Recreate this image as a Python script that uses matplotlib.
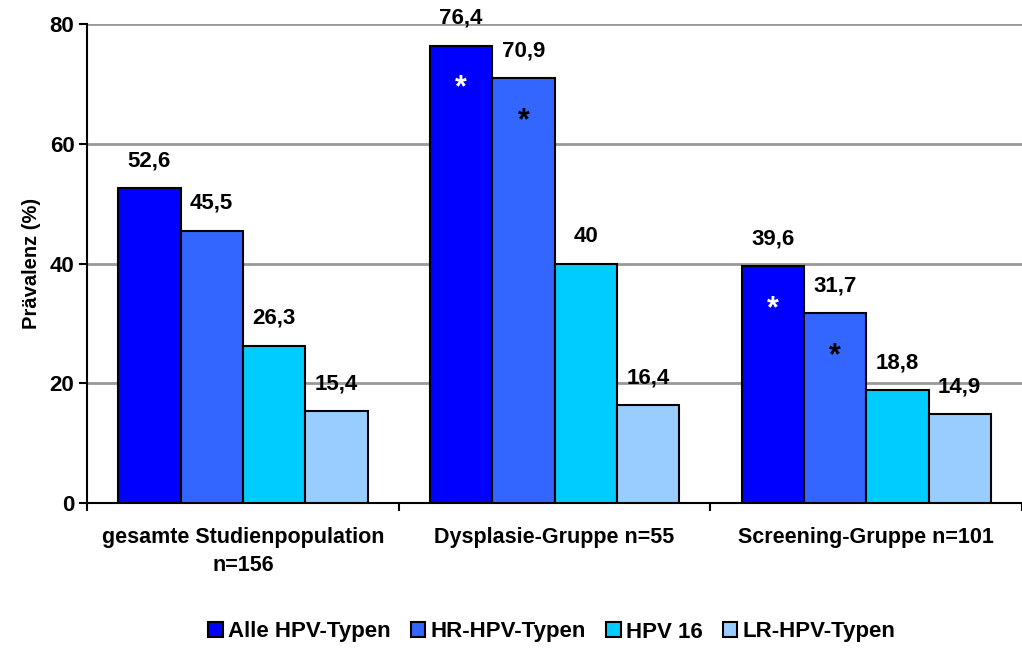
import matplotlib.pyplot as plt
import numpy as np
from matplotlib.patches import Patch

plt.rcParams['font.family'] = ['Liberation Sans', 'DejaVu Sans']
plt.rcParams['font.weight'] = 'bold'

groups = ["gesamte Studienpopulation\nn=156", "Dysplasie-Gruppe n=55", "Screening-Gruppe n=101"]
series = ["Alle HPV-Typen", "HR-HPV-Typen", "HPV 16", "LR-HPV-Typen"]
colors = ["#0000FF", "#3366FF", "#00CCFF", "#99CCFF"]
values = [
    [52.6, 76.4, 39.6],   # Alle HPV-Typen
    [45.5, 70.9, 31.7],   # HR-HPV-Typen
    [26.3, 40.0, 18.8],   # HPV 16
    [15.4, 16.4, 14.9],   # LR-HPV-Typen
]
# significance stars: (series index, group index, colour)
stars = [(0, 1, "white"), (1, 1, "black"), (0, 2, "white"), (1, 2, "black")]

fig = plt.figure(figsize=(10.22, 6.48), dpi=100)
ax = fig.add_axes([87 / 1022, 145 / 648, 935 / 1022, 479 / 648])

x = np.arange(len(groups))
w = 0.2
for i, (name, vals) in enumerate(zip(series, values)):
    pos = x - 1.5 * w + i * w
    ax.bar(pos, vals, width=w, color=colors[i], edgecolor="black", linewidth=1.5, zorder=3)
    for p, v in zip(pos, vals):
        lbl = f"{v:g}".replace(".", ",")
        ax.text(p, v + 2.8, lbl, ha="center", va="bottom", fontsize=16, fontweight="bold")

for s, g, c in stars:
    v = values[s][g]
    ax.text(x[g] - 1.5 * w + s * w, v - 7.2, "*", ha="center", va="center",
            fontsize=22, fontweight="bold", color=c, zorder=4)

ax.set_xlim(-0.5, 2.5)
ax.set_ylim(0, 80)
ax.set_yticks([0, 20, 40, 60, 80])
ax.yaxis.grid(True, color="#999999", linewidth=2, zorder=0)
ax.set_ylabel("Prävalenz (%)", fontsize=14.5, fontweight="bold", labelpad=6)
ax.tick_params(axis="y", labelsize=16, width=1.5, length=6, pad=3)

ax.set_xticks([-0.5, 0.5, 1.5, 2.5])
ax.set_xticklabels([])
ax.set_xticks(x, minor=True)
ax.set_xticklabels(groups, minor=True, fontsize=15.5, fontweight="bold", linespacing=1.45)
ax.tick_params(axis="x", which="major", width=1.5, length=6)
ax.tick_params(axis="x", which="minor", length=0, pad=17)

for side in ["top", "right"]:
    ax.spines[side].set_visible(False)
for side in ["left", "bottom"]:
    ax.spines[side].set_linewidth(1.5)

handles = [Patch(facecolor=c, edgecolor="black", linewidth=1.5) for c in colors]
fig.legend(handles, series, loc="center", bbox_to_anchor=(0.54, 1 - 632 / 648),
           ncol=4, frameon=False, fontsize=16, handlelength=0.65, handleheight=0.65,
           handletextpad=0.25, columnspacing=0.9)

fig.savefig("out.png", dpi=100)
